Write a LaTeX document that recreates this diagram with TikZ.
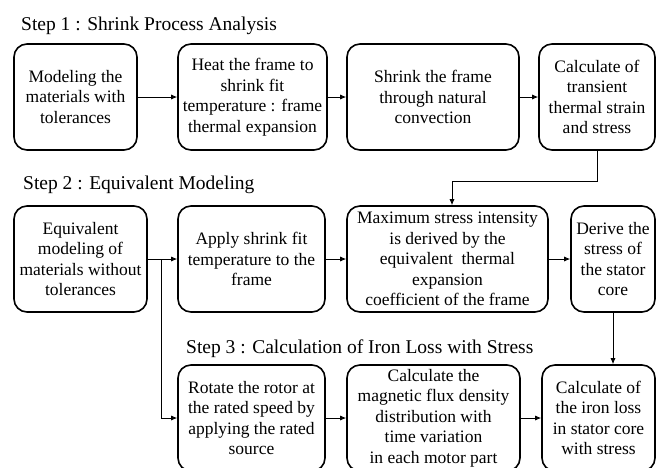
\documentclass[tikz,border=0pt]{standalone}
\usepackage{fontspec}
\setmainfont{Liberation Serif}
\usetikzlibrary{arrows.meta}

\begin{document}
\begin{tikzpicture}[
    x=1pt, y=-1pt,
    box/.style={draw, line width=1.6pt, rectangle, rounded corners=13pt,
                minimum height=106pt, inner sep=1pt, align=center,
                font=\fontsize{17.5}{20.5}\selectfont},
    steplabel/.style={anchor=base west, inner sep=0pt,
                      font=\fontsize{19.5}{22}\selectfont},
    arrow/.style={-{Latex[length=6pt,width=5pt]}, line width=0.8pt}
]
    \clip (0,0) rectangle (664,467);
    \useasboundingbox (0,0) rectangle (664,467);

    % Step 1
    \node[steplabel] (s1) at (21,30) {Step 1 : Shrink Process Analysis};
    \node[box, minimum width=123pt] (model) at (75.5,97) {Modeling the\\materials with\\tolerances};
    \node[box, minimum width=149pt] (heat) at (252.5,97) {Heat the frame to\\shrink fit\\temperature : frame\\thermal expansion};
    \node[box, minimum width=172pt] (shrink) at (433,97) {Shrink the frame\\through natural\\convection};
    \node[box, minimum width=116pt] (calc) at (597,97) {Calculate of\\transient\\thermal strain\\and stress};

    % Step 2
    \node[steplabel] (s2) at (23,189) {Step 2 : Equivalent Modeling};
    \node[box, minimum width=133pt] (equiv) at (80.5,259) {Equivalent\\modeling of\\materials without\\tolerances};
    \node[box, minimum width=147pt] (apply) at (251.5,259) {Apply shrink fit\\temperature to the\\frame};
    \node[box, minimum width=201pt] (maxstress) at (447.5,259) {Maximum stress intensity\\is derived by the\\equivalent\ \ thermal\\expansion\\coefficient of the frame};
    \node[box, minimum width=84pt] (derive) at (613,259) {Derive the\\stress of\\the stator\\core};

    % Step 3
    \node[steplabel] (s3) at (186,353) {Step 3 : Calculation of Iron Loss with Stress};
    \node[box, minimum width=147pt] (rotate) at (251.5,418) {Rotate the rotor at\\the rated speed by\\applying the rated\\source};
    \node[box, minimum width=173pt] (flux) at (433.5,418) {Calculate the\\magnetic flux density\\distribution with\\time variation\\in each motor part};
    \node[box, minimum width=113pt] (ironloss) at (598.5,418) {Calculate of\\the iron loss\\in stator core\\with stress};

    % Arrows
    \draw[arrow] (model) -- (heat);
    \draw[arrow] (heat) -- (shrink);
    \draw[arrow] (shrink) -- (calc);
    \draw[arrow] (calc.south) -- ++(0,31) -| ([xshift=4.5pt]maxstress.north);
    \draw[arrow] (equiv) -- (apply);
    \draw[arrow] (apply) -- (maxstress);
    \draw[arrow] (maxstress) -- (derive);
    \coordinate (branch) at (161,259);
    \draw[arrow] (branch) |- (rotate.west);
    \draw[arrow] (derive.south) -- (derive.south |- ironloss.north);
    \draw[arrow] (rotate) -- (flux);
    \draw[arrow] (flux) -- (ironloss);
\end{tikzpicture}
\end{document}
